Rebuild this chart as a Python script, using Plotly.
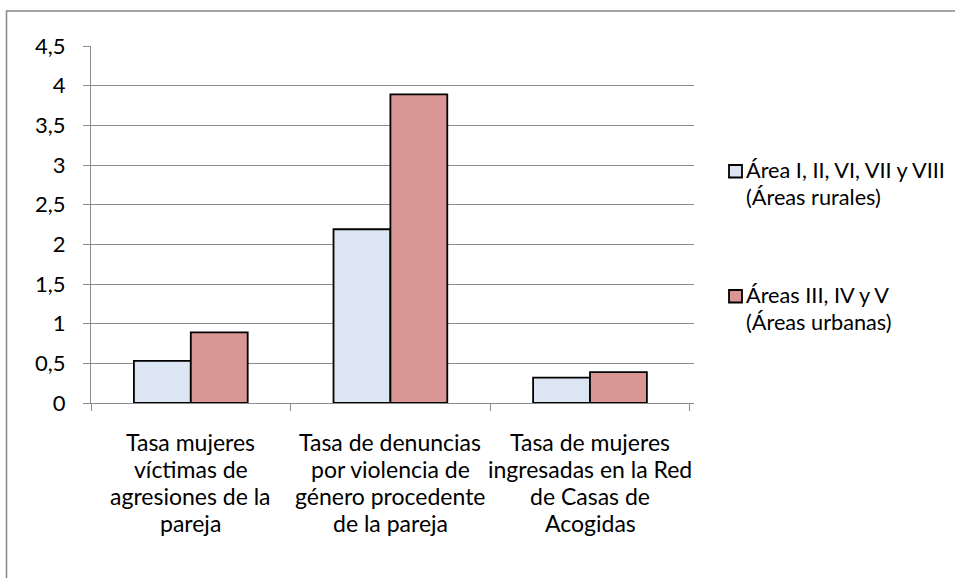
import plotly.graph_objects as go

# Category labels (one list of lines per category)
categories = ["Tasa mujeres víctimas", "Tasa de denuncias", "Tasa de mujeres ingresadas"]
category_lines = [
    ["Tasa mujeres", "víctimas de", "agresiones de la", "pareja"],
    ["Tasa de denuncias", "por violencia de", "género procedente", "de la pareja"],
    ["Tasa de mujeres", "ingresadas en la Red", "de Casas de", "Acogidas"],
]
rural_values = [0.53, 2.19, 0.32]
urban_values = [0.89, 3.89, 0.39]
series_lines = [
    ["Área I, II, VI, VII y VIII", "(Áreas rurales)"],
    ["Áreas III, IV y V", "(Áreas urbanas)"],
]
series_colors = ["#dce6f2", "#d99694"]

FONT = "Lato"
FS = 23
LEGEND_FS = 21.7
GRID = "#8c8c8c"

# Plot area in pixels, used to convert legend positions to paper units
PL, PR, PT, PB = 91, 694, 46, 403
W, H = 955, 578


def px_x(px):
    return (px - PL) / (PR - PL)


def px_y(py):
    return (PB - py) / (PB - PT)


fig = go.Figure()
for vals, lines, color in zip([rural_values, urban_values], series_lines, series_colors):
    fig.add_trace(go.Bar(
        x=categories, y=vals, name=" ".join(lines),
        marker=dict(color=color, line=dict(color="#000000", width=1.8)),
    ))

# Multi-line category labels under each group
for cat, lines in zip(categories, category_lines):
    for i, line in enumerate(lines):
        fig.add_annotation(
            x=cat, xref="x", y=0, yref="paper", yanchor="middle",
            yshift=-39 - 27 * i, text=line, showarrow=False,
            font=dict(family=FONT, size=FS, color="#000000"),
        )

# Legend: a swatch and two text lines per series
legend_tops = [165, 290]
for top, lines, color in zip(legend_tops, series_lines, series_colors):
    fig.add_shape(type="rect", xref="paper", yref="paper",
                  x0=px_x(729), x1=px_x(742), y0=px_y(top + 12.5), y1=px_y(top),
                  line=dict(color="#000000", width=1.8), fillcolor=color)
    for i, line in enumerate(lines):
        fig.add_annotation(
            x=px_x(744), xref="paper", xanchor="left",
            y=px_y(top + 5 + 27 * i), yref="paper", yanchor="middle",
            text=line, showarrow=False,
            font=dict(family=FONT, size=LEGEND_FS, color="#000000"),
        )

# Outer chart frame
fig.add_shape(type="rect", xref="paper", yref="paper",
              x0=px_x(6.5), x1=px_x(1000), y0=px_y(640), y1=px_y(11),
              line=dict(color="#868686", width=1.5), fillcolor="rgba(0,0,0,0)")

fig.update_layout(
    width=W, height=H, autosize=False,
    margin=dict(l=PL, r=W - PR, t=PT, b=H - PB, autoexpand=False),
    paper_bgcolor="white", plot_bgcolor="white",
    separators=", ",
    barmode="group", bargap=0.43, bargroupgap=0,
    font=dict(family=FONT, size=FS, color="#000000"),
    showlegend=False,
    xaxis=dict(
        showticklabels=False, showline=True, linecolor=GRID, linewidth=1,
        ticks="outside", tickson="boundaries", ticklen=7, tickcolor=GRID,
        showgrid=False, automargin=False,
    ),
    yaxis=dict(
        range=[0, 4.5], dtick=0.5, tickformat=".1~f",
        showline=True, linecolor=GRID, linewidth=1,
        ticks="outside", ticklen=7, tickcolor=GRID,
        showgrid=True, gridcolor=GRID, gridwidth=1, zeroline=False,
        tickfont=dict(family=FONT, size=22), ticklabelstandoff=13,
        automargin=False,
    ),
)

fig.write_html("out.html")
